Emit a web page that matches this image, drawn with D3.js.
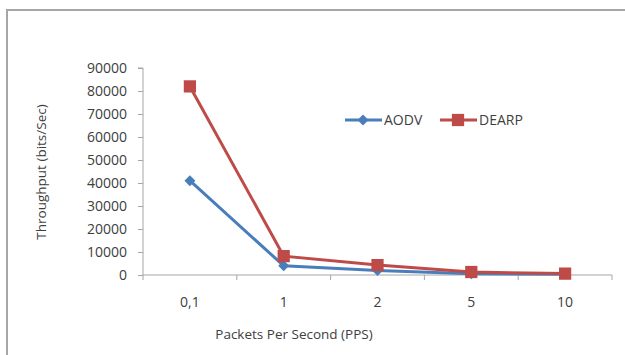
<!DOCTYPE html>
<html>
<head>
<meta charset="utf-8">
<script src="https://cdn.jsdelivr.net/npm/d3@7"></script>
<style>
  body { margin: 0; background: #fff; }
  svg text { font-family: "Open Sans", "DejaVu Sans", sans-serif; fill: #404040; }
</style>
</head>
<body>
<div id="chart"></div>
<script>
// datos
const categories = ["0,1", "1", "2", "5", "10"];
const aodv = [41000, 4000, 2000, 500, 300];
const dearp = [82000, 8200, 4300, 1300, 600];
const yTicks = [0, 10000, 20000, 30000, 40000, 50000, 60000, 70000, 80000, 90000];

const W = 625, H = 355;
const margin = { top: 68, right: 13, bottom: 80, left: 143 };

const svg = d3.select("#chart").append("svg")
  .attr("width", W).attr("height", H);

// marco del gráfico
svg.append("path")
  .attr("d", `M7,${H} V10 H${W}`)
  .attr("fill", "none").attr("stroke", "#a6a6a6").attr("stroke-width", 2);

const x = d3.scaleBand().domain(categories)
  .range([margin.left, W - margin.right]);
const y = d3.scaleLinear().domain([0, 90000])
  .range([H - margin.bottom, margin.top]);

// eje Y
const yAxis = svg.append("g")
  .attr("transform", `translate(${margin.left},0)`)
  .call(d3.axisLeft(y).tickValues(yTicks).tickSize(5).tickPadding(11).tickFormat(d3.format("d")));
yAxis.select(".domain").attr("stroke", "#a6a6a6").attr("d", `M-5,${y(90000)}H0V${y(0)}`);
yAxis.selectAll(".tick line").attr("stroke", "#a6a6a6");
yAxis.selectAll("text").style("font-size", "14px").attr("fill", "#404040");

// eje X
const xAxis = svg.append("g")
  .attr("transform", `translate(0,${y(0)})`);
xAxis.append("line")
  .attr("x1", margin.left).attr("x2", W - margin.right)
  .attr("stroke", "#a6a6a6");
const edges = categories.map(c => x(c)).concat([W - margin.right]);
xAxis.selectAll(".xt").data(edges).enter().append("line")
  .attr("x1", d => d).attr("x2", d => d)
  .attr("y1", 0).attr("y2", 5)
  .attr("stroke", "#a6a6a6");
xAxis.selectAll(".xl").data(categories).enter().append("text")
  .attr("x", d => x(d) + x.bandwidth() / 2)
  .attr("y", 32)
  .attr("text-anchor", "middle")
  .style("font-size", "14px")
  .text(d => d);

// títulos de ejes
svg.append("text")
  .attr("x", 294).attr("y", 339)
  .attr("text-anchor", "middle")
  .style("font-size", "13.5px")
  .text("Packets Per Second (PPS)");
svg.append("text")
  .attr("transform", "translate(46,172) rotate(-90)")
  .attr("text-anchor", "middle")
  .style("font-size", "13.5px")
  .text("Throughput (bits/Sec)");

// series
const series = [
  { name: "AODV", values: aodv, color: "#4a7ebb", rot: 45, size: 60 },
  { name: "DEARP", values: dearp, color: "#be4b48", rot: 0, size: 150 }
];

const line = d3.line()
  .x((d, i) => x(categories[i]) + x.bandwidth() / 2)
  .y(d => y(d));

series.forEach(s => {
  svg.append("path")
    .datum(s.values)
    .attr("d", line)
    .attr("fill", "none")
    .attr("stroke", s.color)
    .attr("stroke-width", 3);
  svg.selectAll(null).data(s.values).enter().append("path")
    .attr("d", d3.symbol().type(d3.symbolSquare).size(s.size))
    .attr("transform", (d, i) => `translate(${x(categories[i]) + x.bandwidth() / 2},${y(d)}) rotate(${s.rot})`)
    .attr("fill", s.color);
});

// leyenda
const legendX = [345, 440];
series.forEach((s, i) => {
  const g = svg.append("g").attr("transform", `translate(${legendX[i]},120)`);
  g.append("line").attr("x1", 0).attr("x2", 37)
    .attr("stroke", s.color).attr("stroke-width", 3);
  g.append("path")
    .attr("d", d3.symbol().type(d3.symbolSquare).size(s.size))
    .attr("transform", `translate(18,0) rotate(${s.rot})`)
    .attr("fill", s.color);
  g.append("text").attr("x", 39).attr("y", 5)
    .style("font-size", "14px")
    .text(s.name);
});
</script>
</body>
</html>
